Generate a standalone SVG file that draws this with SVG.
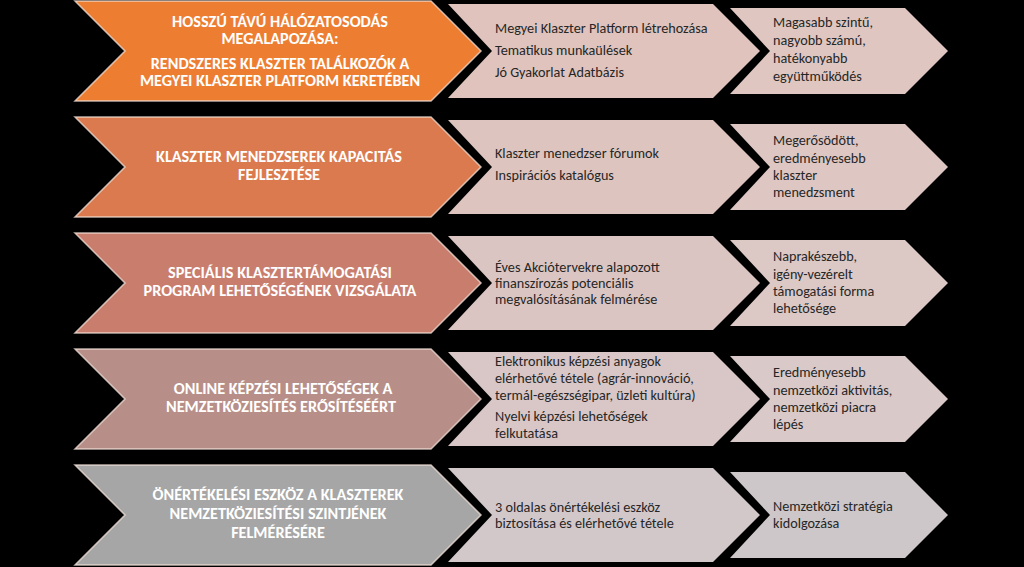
<svg xmlns="http://www.w3.org/2000/svg" width="1024" height="567" viewBox="0 0 1024 567">
<style>
.bg{fill:#000}
.lc{stroke:#f6e6dc;stroke-opacity:0.75;stroke-width:1.5}
.lt{font-family:Carlito,Lato,"Open Sans",sans-serif;font-weight:bold;font-size:16.2px;fill:#fff;text-anchor:middle}
.mt{font-family:Carlito,Lato,"Open Sans",sans-serif;font-size:14.2px;fill:#262626}
.rt{font-family:Carlito,Lato,"Open Sans",sans-serif;font-size:14.2px;fill:#262626}
</style>
<rect class="bg" x="0" y="0" width="1024" height="567"/>
<g id="connectors"/>
<!-- Row 1 -->
<g id="r1-left">
<polygon class="lc" fill="#ED7D31" points="75,1 431,1 481,51 431,101 75,101 125,51"/>
<text class="lt" x="280" y="27">HOSSZÚ TÁVÚ HÁLÓZATOSODÁS</text>
<text class="lt" x="280" y="44">MEGALAPOZÁSA:</text>
<text class="lt" x="280" y="69">RENDSZERES KLASZTER TALÁLKOZÓK A</text>
<text class="lt" x="280" y="86">MEGYEI KLASZTER PLATFORM KERETÉBEN</text>
</g>
<g id="r1-mid">
<polygon fill="#DFC3BC" points="448,4 713,4 760,51 713,98 448,98 492,51"/>
<text class="mt" x="495" y="33">Megyei Klaszter Platform létrehozása</text>
<text class="mt" x="495" y="55">Tematikus munkaülések</text>
<text class="mt" x="495" y="77">Jó Gyakorlat Adatbázis</text>
</g>
<g id="r1-right">
<polygon fill="#DFC6C1" points="730,8 905,8 948,51 905,94 730,94 770,51"/>
<text class="rt" x="773" y="27">Magasabb szintű,</text>
<text class="rt" x="773" y="45">nagyobb számú,</text>
<text class="rt" x="773" y="63">hatékonyabb</text>
<text class="rt" x="773" y="81">együttműködés</text>
</g>
<!-- Row 2 -->
<g id="r2-left">
<polygon class="lc" fill="#DB7A4E" points="75,117 431,117 481,167 431,217 75,217 125,167"/>
<text class="lt" x="279" y="162">KLASZTER MENEDZSEREK KAPACITÁS</text>
<text class="lt" x="279" y="180">FEJLESZTÉSE</text>
</g>
<g id="r2-mid">
<polygon fill="#DEC4BE" points="448,120 713,120 760,167 713,214 448,214 492,167"/>
<text class="mt" x="495" y="158">Klaszter menedzser fórumok</text>
<text class="mt" x="495" y="180">Inspirációs katalógus</text>
</g>
<g id="r2-right">
<polygon fill="#DEC6C2" points="730,124 905,124 948,167 905,210 730,210 770,167"/>
<text class="rt" x="773" y="145">Megerősödött,</text>
<text class="rt" x="773" y="162.5">eredményesebb</text>
<text class="rt" x="773" y="180">klaszter</text>
<text class="rt" x="773" y="197">menedzsment</text>
</g>
<!-- Row 3 -->
<g id="r3-left">
<polygon class="lc" fill="#C97D6D" points="75,233 431,233 481,283 431,333 75,333 125,283"/>
<text class="lt" x="280" y="278">SPECIÁLIS KLASZTERTÁMOGATÁSI</text>
<text class="lt" x="280" y="296">PROGRAM LEHETŐSÉGÉNEK VIZSGÁLATA</text>
</g>
<g id="r3-mid">
<polygon fill="#DBC5C2" points="448,236 713,236 760,283 713,330 448,330 492,283"/>
<text class="mt" x="495" y="272">Éves Akciótervekre alapozott</text>
<text class="mt" x="495" y="288">finanszírozás potenciális</text>
<text class="mt" x="495" y="304">megvalósításának felmérése</text>
</g>
<g id="r3-right">
<polygon fill="#DCC8C5" points="730,240 905,240 948,283 905,326 730,326 770,283"/>
<text class="rt" x="773" y="261">Naprakészebb,</text>
<text class="rt" x="773" y="278.5">igény-vezérelt</text>
<text class="rt" x="773" y="296">támogatási forma</text>
<text class="rt" x="773" y="313">lehetősége</text>
</g>
<!-- Row 4 -->
<g id="r4-left">
<polygon class="lc" fill="#B78F88" points="75,349 431,349 481,399 431,449 75,449 125,399"/>
<text class="lt" x="283" y="394">ONLINE KÉPZÉSI LEHETŐSÉGEK A</text>
<text class="lt" x="281" y="412">NEMZETKÖZIESÍTÉS ERŐSÍTÉSÉÉRT</text>
</g>
<g id="r4-mid">
<polygon fill="#D8C7C6" points="448,352 713,352 760,399 713,446 448,446 492,399"/>
<text class="mt" x="495" y="366">Elektronikus képzési anyagok</text>
<text class="mt" x="495" y="383">elérhetővé tétele (agrár-innováció,</text>
<text class="mt" x="495" y="400">termál-egészségipar, üzleti kultúra)</text>
<text class="mt" x="495" y="421">Nyelvi képzési lehetőségek</text>
<text class="mt" x="495" y="438">felkutatása</text>
</g>
<g id="r4-right">
<polygon fill="#D9C9C8" points="730,356 905,356 948,399 905,442 730,442 770,399"/>
<text class="rt" x="773" y="377">Eredményesebb</text>
<text class="rt" x="773" y="395">nemzetközi aktivitás,</text>
<text class="rt" x="773" y="412">nemzetközi piacra</text>
<text class="rt" x="773" y="429">lépés</text>
</g>
<!-- Row 5 -->
<g id="r5-left">
<polygon class="lc" fill="#A6A6A6" points="75,465 431,465 481,515 431,565 75,565 125,515"/>
<text class="lt" x="278" y="500">ÖNÉRTÉKELÉSI ESZKÖZ A KLASZTEREK</text>
<text class="lt" x="278" y="519">NEMZETKÖZIESÍTÉSI SZINTJÉNEK</text>
<text class="lt" x="278" y="538">FELMÉRÉSÉRE</text>
</g>
<g id="r5-mid">
<polygon fill="#D2C8CA" points="448,468 713,468 760,515 713,562 448,562 492,515"/>
<text class="mt" x="495" y="512">3 oldalas önértékelési eszköz</text>
<text class="mt" x="495" y="528">biztosítása és elérhetővé tétele</text>
</g>
<g id="r5-right">
<polygon fill="#CDC7C9" points="730,472 905,472 948,515 905,558 730,558 770,515"/>
<text class="rt" x="773" y="511">Nemzetközi stratégia</text>
<text class="rt" x="773" y="528">kidolgozása</text>
</g>
</svg>
